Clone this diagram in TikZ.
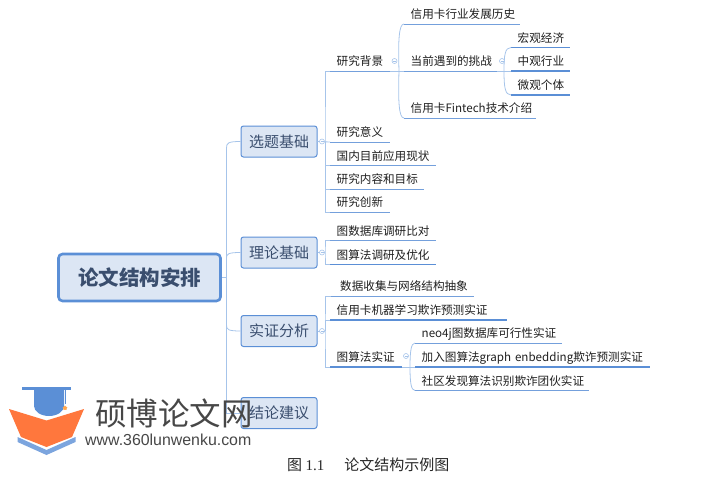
\documentclass[tikz,border=0pt]{standalone}
\usepackage{fontspec}
\setmainfont{Noto Sans CJK SC}
\newfontfamily\urlfont{Liberation Sans}
\newfontfamily\capfont{Liberation Serif}
\usetikzlibrary{calc}
\usetikzlibrary{shapes.geometric}
\definecolor{boxfill}{HTML}{DCE6F4}
\definecolor{boxline}{HTML}{5B8FD6}
\definecolor{boxtext}{HTML}{3A4E6E}
\definecolor{twig}{HTML}{A6C4EA}
\definecolor{logoorange}{HTML}{FF773D}
\tikzset{
 topbox/.style={draw=boxline,fill=boxfill,line width=1pt,rounded corners=2.5pt,minimum width=76pt,minimum height=31pt,inner sep=0pt,text=boxtext,font=\fontsize{15}{15}\selectfont},
 leaf/.style={anchor=south west,align=left,inner xsep=6.5pt,inner ysep=1pt,text height=9pt,text depth=4pt,text=black!88,font=\fontsize{11.6}{12}\selectfont},
 branch/.style={draw=twig,line width=.8pt},
 knob/.style={circle,draw=twig,fill=white,line width=.6pt,minimum size=5pt,inner sep=0pt},
}
\begin{document}
\begin{tikzpicture} [x=1pt, y=-1pt]
\useasboundingbox (0,0) rectangle (726,477);
\node[topbox,draw=boxline,line width=2.6pt,rounded corners=4pt,minimum width=162pt,minimum height=47pt,font=\fontsize{20.5}{21}\bfseries\selectfont] (root) at (139.5,277.5) {论文结构安排};
\node[topbox] (xtjc) at (279,141.5) {选题基础};
\node[topbox] (lljc) at (279,252.5) {理论基础};
\node[topbox] (szfx) at (279,331) {实证分析};
\node[topbox] (jljy) at (279,413) {结论建议};
% leaves: name, line start, line y, line length, text
\foreach \nm/\x/\y/\w/\txt in {
 yjbj/330/71/60/研究背景, yjyy/330/142/60/研究意义, gnxz/330/165.5/106/国内目前应用现状,
 yjnr/330/189/94/研究内容和目标, yjcx/330/212/60/研究创新,
 fzls/404/24/116/信用卡行业发展历史, dqtz/404/71/93/当前遇到的挑战, fint/404/118/132/信用卡Fintech技术介绍,
 hgjj/511/47.5/59/宏观经济, zghy/511/71/59/中观行业, wggt/511/95/59/微观个体,
 tsjk/330/240.5/106/图数据库调研比对, tsfy/330/264.5/106/图算法调研及优化,
 sjsj/331/296/143/\hspace*{2.5pt}数据收集与网络结构抽象, jqxx/330/320/177/信用卡机器学习欺诈预测实证, tsfz/330/367/72/图算法实证,
 neoj/415/343/147/neo4j图数据库可行性实证, gemb/415/367/235/加入图算法graph enbedding欺诈预测实证, sqfx/415/390.5/174/社区发现算法识别欺诈团伙实证} {
 \pgfmathsetlengthmacro{\tw}{\w-13}
 \node[leaf,text width=\tw] (\nm) at (\x,\y) {\txt};
}
% underlines
\foreach \nm in {yjbj,yjyy,gnxz,yjnr,yjcx,fzls,dqtz,fint,tsjk,sjsj,sqfx,neoj}
 \draw[draw=boxline!85,line width=.9pt] (\nm.south west) -- (\nm.south east);
\foreach \nm in {hgjj,zghy,wggt,tsfy,jqxx,tsfz,gemb}
 \draw[draw=boxline,line width=1.3pt] (\nm.south west) -- (\nm.south east);
% trunk
\coordinate (trunk) at (226.5,277.5);
\coordinate (trunkend) at (226.5,413);
\draw[branch] (root.east) -- (trunk) -- (trunkend) -- (jljy.west);
\draw[branch] (trunk) -- (226.5,148) .. controls (226.5,143) and (228,141.5) .. (xtjc.west);
\draw[branch] (226.5,258) .. controls (226.5,254) and (228,252.5) .. (lljc.west);
\draw[branch] (226.5,325) .. controls (226.5,329.5) and (228,331) .. (szfx.west);
% second level
\coordinate (kx) at (325,141.5);
\coordinate (kl) at (325,252.5);
\coordinate (ks) at (325,331);
\draw[branch] (xtjc.east) -- (yjyy.south west);
\draw[branch] (yjbj.south west) -| (kx) |- (yjcx.south west);
\draw[branch] (kx) |- (gnxz.south west);
\draw[branch] (kx) |- (yjnr.south west);
\draw[branch] (lljc.east) -- (kl);
\draw[branch] (tsjk.south west) -| (kl) |- (tsfy.south west);
\draw[branch] (szfx.east) -- (ks);
\draw[branch] (sjsj.south west) -| (ks) |- (tsfz.south west);
\draw[branch] (ks) |- (jqxx.south west);
% third level
\coordinate (ky) at (399,71);
\coordinate (kd) at (504,71);
\coordinate (kt) at (410,367);
\draw[branch] (yjbj.south east) -- (dqtz.south west);
\draw[branch] (ky) .. controls (398,40) and (399,24) .. (fzls.south west);
\draw[branch] (ky) .. controls (398,102) and (399,118) .. (fint.south west);
\draw[branch] (dqtz.south east) -- (zghy.south west);
\draw[branch] (kd) .. controls (504,55) and (505,47.5) .. (hgjj.south west);
\draw[branch] (kd) .. controls (504,87) and (505,95) .. (wggt.south west);
\draw[branch] (tsfz.south east) -- (gemb.south west);
\draw[branch] (kt) .. controls (410,352) and (411,343) .. (neoj.south west);
\draw[branch] (kt) .. controls (410,382) and (411,390.5) .. (sqfx.south west);
% knobs
\foreach \nm/\x/\y in {kna/322/141.5,knb/322/252.5,knc/322/331,knd/394.5/61,kne/502/61,knf/406/356}
 \node[knob] (\nm) at (\x,\y) {};
\foreach \nm in {kna,knb,knc,knd,kne,knf}
 \draw[draw=twig,line width=.5pt] ($(\nm)+(-1.5,0)$) -- ($(\nm)+(1.5,0)$);
% watermark
\fill[boxline] (22,387) rectangle (71,390);
\fill[boxline] (34,390) -- (64,390) -- (64,406) arc[start angle=0,end angle=-180,radius=15,y radius=-10] -- cycle;
\draw[boxline,line width=.7pt] (65,390) -- (65,404);
\node[star,star points=5,fill=orange!70,inner sep=0pt,minimum size=5pt] (starmark) at (65,408) {};
\fill[logoorange] (9,409) -- (46.5,420.5) -- (84,409) -- (72,437) -- (46.5,447) -- (21,437) -- cycle;
\fill[boxline!80] (17.5,437) -- (46.5,450) -- (75.5,437) -- (75.5,442) -- (46.5,455) -- (17.5,442) -- cycle;
\node[anchor=west,inner sep=0pt,text=black!72,font=\fontsize{31.5}{32}\selectfont] (wmark) at (95,413) {硕博论文网};
\node[anchor=west,inner sep=0pt,text=black!72,font=\urlfont\fontsize{15.9}{16}\selectfont] (wurl) at (85,440) {www.360lunwenku.com};
\node[anchor=west,inner sep=0pt,text=black!85,font=\fontsize{15}{15}\selectfont] (fig) at (287,465) {图 {\capfont\fontsize{15}{15}\selectfont 1.1}\hspace{20pt}论文结构示例图};
\end{tikzpicture}
\end{document}
